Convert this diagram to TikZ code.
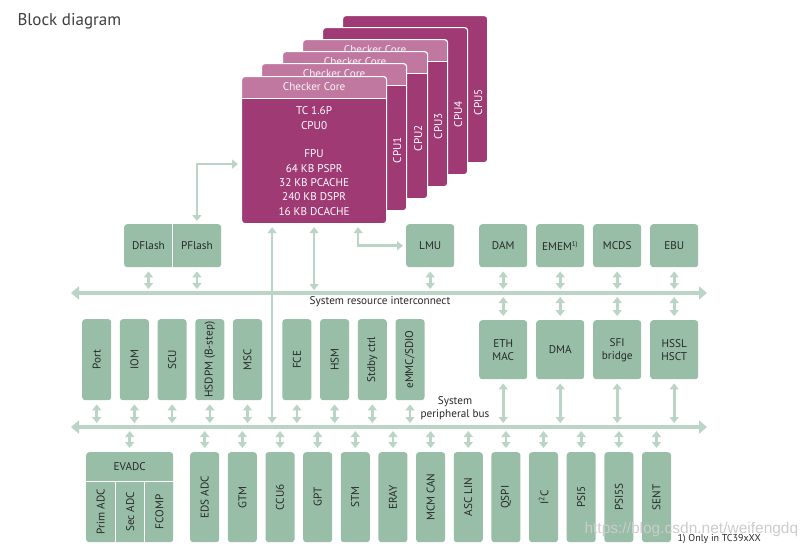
\documentclass[tikz,border=0pt]{standalone}
\usepackage{fontspec}
\setmainfont{PT Sans}
\newfontfamily\wmfont{Liberation Sans}
\usepackage{tikz}
\usetikzlibrary{arrows.meta, positioning}

\definecolor{boxgreen}{RGB}{152,190,168}
\definecolor{linkgreen}{RGB}{186,213,198}
\definecolor{cpubody}{RGB}{160,58,116}
\definecolor{cpuhead}{RGB}{192,120,160}
\definecolor{inktext}{RGB}{40,40,40}

\begin{document}
\begin{tikzpicture}[
  x=1pt, y=-1pt,
  node distance=8.3pt,
  every node/.style={font=\fontsize{11.2}{13}\selectfont},
  gbox/.style={rectangle, fill=boxgreen, rounded corners=3pt, inner sep=0pt,
    text=inktext, align=center},
  mbox/.style={gbox, minimum width=48pt, minimum height=43pt},
  hbox/.style={gbox, minimum width=48pt, minimum height=59pt},
  vbox/.style={gbox, minimum width=29pt, minimum height=81pt},
  lbox/.style={gbox, minimum width=29pt, minimum height=90pt},
  part/.style={rectangle, inner sep=0pt, text=inktext},
  card/.style={rectangle, draw=white, line width=1.2pt, fill=cpubody,
    rounded corners=3pt, minimum width=145pt, minimum height=147pt,
    inner sep=0pt, anchor=north west},
  checker/.style={path picture={
    \fill[cpuhead] (path picture bounding box.north west)
      rectangle ([yshift=-22pt]path picture bounding box.north east);
    \draw[white, line width=1pt] ([yshift=-22pt]path picture bounding box.north west)
      -- ([yshift=-22pt]path picture bounding box.north east);}},
  headtext/.style={text=white!92!cpuhead},
  cpulabel/.style={rotate=90, text=white},
  cputext/.style={text=white, align=center, font=\fontsize{11.2}{14.3}\selectfont},
  bus/.style={{Triangle[width=13pt,length=8pt]}-{Triangle[width=13pt,length=8pt]},
    line width=3.5pt, draw=linkgreen},
  link/.style={{Triangle[width=9pt,length=6pt]}-{Triangle[width=9pt,length=6pt]},
    line width=2.6pt, draw=linkgreen, shorten <=4pt, shorten >=4pt}
]
  \fill[white] (0,0) rectangle (811,552);
  \useasboundingbox (0,0) rectangle (811,552);

  \node[anchor=west, text=black!75, font=\fontsize{17}{20}\selectfont] (title) at (14,21) {Block diagram};

  % CPU stack, back to front
  \node[card] (cpu5) at (342,15) {};
  \node[cpulabel] (lab5) at ([xshift=-10pt,yshift=-87pt]cpu5.north east) {CPU5};
  \node[card] (cpu4) at (322,27) {};
  \node[cpulabel] (lab4) at ([xshift=-10pt,yshift=-87pt]cpu4.north east) {CPU4};
  \node[card, checker] (cpu3) at (302,39) {};
  \node[headtext] (cc3) at ([yshift=-11pt]cpu3.north) {Checker Core};
  \node[cpulabel] (lab3) at ([xshift=-10pt,yshift=-87pt]cpu3.north east) {CPU3};
  \node[card, checker] (cpu2) at (282,51) {};
  \node[headtext] (cc2) at ([yshift=-11pt]cpu2.north) {Checker Core};
  \node[cpulabel] (lab2) at ([xshift=-10pt,yshift=-87pt]cpu2.north east) {CPU2};
  \node[card, checker] (cpu1) at (261,63) {};
  \node[headtext] (cc1) at ([yshift=-11pt]cpu1.north) {Checker Core};
  \node[cpulabel] (lab1) at ([xshift=-10pt,yshift=-87pt]cpu1.north east) {CPU1};
  \node[card, checker] (cpu0) at (241,76) {};
  \node[headtext] (cc0) at ([yshift=-11pt]cpu0.north) {Checker Core};
  \node[cputext] (core0) at ([yshift=-11pt]cpu0.center)
    {TC 1.6P\\CPU0\\[14.3pt]FPU\\64 KB PSPR\\32 KB PCACHE\\240 KB DSPR\\16 KB DCACHE};

  % memories
  \node[gbox, minimum width=97pt, minimum height=43pt, anchor=north west] (flash) at (124,224) {};
  \node[part, minimum width=48.5pt, minimum height=43pt, anchor=west] (dflash) at (flash.west) {DFlash};
  \node[part, minimum width=48.5pt, minimum height=43pt, anchor=east] (pflash) at (flash.east) {PFlash};
  \draw[white, line width=1pt] (dflash.north east) -- (dflash.south east);
  \node[mbox, anchor=north west] (lmu) at (406,224) {LMU};
  \node[mbox, anchor=north west] (dam) at (479,224) {DAM};
  \node[mbox, right=8.6pt of dam] (emem) {EMEM\textsuperscript{\fontsize{7}{8}\selectfont 1)}};
  \node[mbox, right=8.6pt of emem] (mcds) {MCDS};
  \node[mbox, right=8.6pt of mcds] (ebu) {EBU};

  % masters on the resource bus
  \node[hbox, anchor=north west] (eth) at (479,320) {ETH\\MAC};
  \node[hbox, right=8.6pt of eth] (dma) {DMA};
  \node[hbox, right=8.6pt of dma] (sfi) {SFI\\bridge};
  \node[hbox, right=8.6pt of sfi] (hssl) {HSSL\\HSCT};

  % middle peripherals
  \node[vbox, anchor=north west] (port) at (82,319) {\rotatebox{90}{Port}};
  \node[vbox, right=of port] (iom) {\rotatebox{90}{IOM}};
  \node[vbox, right=of iom] (scu) {\rotatebox{90}{SCU}};
  \node[vbox, right=of scu] (hsdpm) {\rotatebox{90}{HSDPM (B-step)}};
  \node[vbox, right=of hsdpm] (msc) {\rotatebox{90}{MSC}};
  \node[vbox, right=20pt of msc] (fce) {\rotatebox{90}{FCE}};
  \node[vbox, right=of fce] (hsm) {\rotatebox{90}{HSM}};
  \node[vbox, right=of hsm] (stdby) {\rotatebox{90}{Stdby ctrl}};
  \node[vbox, right=of stdby] (emmc) {\rotatebox{90}{eMMC/SDIO}};

  % bottom peripherals
  \node[gbox, minimum width=87pt, minimum height=90pt, anchor=north west] (evadc) at (86,452) {};
  \node[part] (evadctxt) at ([yshift=-15pt]evadc.north) {EVADC};
  \node[part, minimum width=29pt, minimum height=61pt, anchor=south west] (primadc) at (evadc.south west) {\rotatebox{90}{Prim ADC}};
  \node[part, minimum width=29pt, minimum height=61pt, anchor=south west] (secadc) at (primadc.south east) {\rotatebox{90}{Sec ADC}};
  \node[part, minimum width=29pt, minimum height=61pt, anchor=south west] (fcomp) at (secadc.south east) {\rotatebox{90}{FCOMP}};
  \draw[white, line width=1pt] (primadc.north west) -- (fcomp.north east)
    (primadc.north east) -- (primadc.south east) (secadc.north east) -- (secadc.south east);
  \node[lbox, anchor=north west] (edsadc) at (190,452) {\rotatebox{90}{EDS ADC}};
  \node[lbox, right=8.25pt of edsadc] (gtm) {\rotatebox{90}{GTM}};
  \node[lbox, right=8.25pt of gtm] (ccu6) {\rotatebox{90}{CCU6}};
  \node[lbox, right=8.25pt of ccu6] (gpt) {\rotatebox{90}{GPT}};
  \node[lbox, right=8.25pt of gpt] (stm) {\rotatebox{90}{STM}};
  \node[lbox, right=8.25pt of stm] (eray) {\rotatebox{90}{ERAY}};
  \node[lbox, right=8.25pt of eray] (mcmcan) {\rotatebox{90}{MCM CAN}};
  \node[lbox, right=8.25pt of mcmcan] (asclin) {\rotatebox{90}{ASC LIN}};
  \node[lbox, right=8.25pt of asclin] (qspi) {\rotatebox{90}{QSPI}};
  \node[lbox, right=8.25pt of qspi] (iic) {\rotatebox{90}{I\textsuperscript{2}C}};
  \node[lbox, right=8.25pt of iic] (psi5) {\rotatebox{90}{PSI5}};
  \node[lbox, right=8.25pt of psi5] (psi5s) {\rotatebox{90}{PSI5S}};
  \node[lbox, right=8.25pt of psi5s] (sent) {\rotatebox{90}{SENT}};

  % buses
  \coordinate (rbl) at (71,293);
  \coordinate (rbr) at (707,293);
  \coordinate (pbl) at (71,427);
  \coordinate (pbr) at (707,427);
  \draw[bus] (rbl) -- (rbr);
  \draw[bus] (pbl) -- (pbr);
  \node[text=inktext] (rbtext) at (380,302) {System resource interconnect};
  \node[text=inktext, align=center] (pbtext) at (455,408) {System\\peripheral bus};

  \foreach \n in {dflash,pflash,lmu,dam,emem,mcds,ebu}
    \draw[link] (\n.south) -- (\n.south |- rbl);
  \foreach \n in {eth,dma,sfi,hssl} {
    \draw[link] (\n.north) -- (\n.north |- rbl);
    \draw[link] (\n.south) -- (\n.south |- pbl);
  }
  \foreach \n in {port,iom,scu,hsdpm,msc,fce,hsm,stdby,emmc}
    \draw[link] (\n.south) -- (\n.south |- pbl);
  \foreach \n in {evadc,edsadc,gtm,ccu6,gpt,stm,eray,mcmcan,asclin,qspi,iic,psi5,psi5s,sent}
    \draw[link] (\n.north) -- (\n.north |- pbl);

  % CPU connections
  \draw[link, shorten <=3pt, shorten >=3pt] (cpu0.south) -- (cpu0.south |- rbl);
  \draw[link, shorten <=3pt] ([xshift=-42pt]cpu0.south) -- ([xshift=-42pt]cpu0.south |- pbl);
  \draw[link, shorten <=3pt, shorten >=3pt] ([xshift=44pt]cpu0.south) |- (lmu.west);
  \draw[link, shorten <=3pt, shorten >=3pt] (pflash.north) |- ([yshift=-14pt]cpu0.west);

  \node[anchor=west, text=inktext, font=\fontsize{10}{11}\selectfont] (note) at (674,539) {1) Only in TC39xXX};
  \node[anchor=west, text=black!20, font=\fontsize{15.5}{17}\wmfont] (wmark) at (581,529) {https://blog.csdn.net/weifengdq};
\end{tikzpicture}
\end{document}
